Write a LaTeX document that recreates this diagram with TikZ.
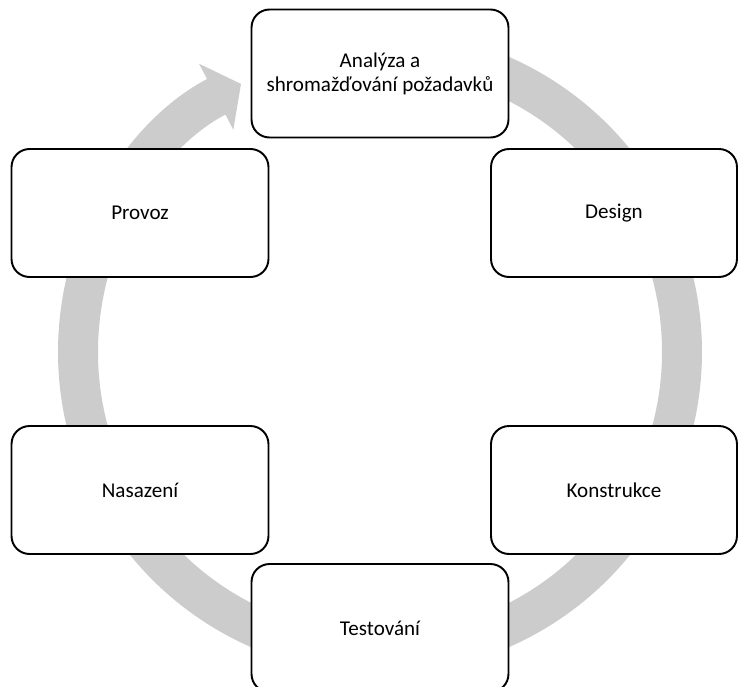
\documentclass[tikz,border=0pt]{standalone}
\usepackage{fontspec}
\setmainfont{Carlito}
\usetikzlibrary{arrows.meta}
\colorlet{ring}{black!20}
\tikzset{
  phase/.style={draw, line width=1.1pt, fill=white, rounded corners=0.36cm,
    align=center, inner sep=0pt, minimum height=2.56cm,
    font=\fontsize{12}{13.6}\selectfont},
  phase wide/.style={phase, minimum width=5.14cm},
  phase narrow/.style={phase, minimum width=4.92cm},
  cycle-path/.style={draw=ring, line width=0.8cm,
    -{Triangle[length=0.56cm, width=1.46cm]}},
}

\begin{document}
\begin{tikzpicture}[x=0.02cm, y=-0.02cm]
\useasboundingbox (0,0) rectangle (738,687);
% grey ring with the head just left of the first phase
\coordinate (hub) at (380,352);
\draw[cycle-path] (hub) ++(270:302) arc[start angle=270, end angle=602.6, radius=302];
% phases, clockwise from the top
\node[phase wide]   (analyza)    at (380,73.5) {Analýza a\\shromažďování požadavků};
\node[phase narrow] (design)     at (614,213)  {Design};
\node[phase narrow] (konstrukce) at (614,490)  {Konstrukce};
\node[phase wide]   (testovani)  at (380,628)  {Testování};
\node[phase wide]   (nasazeni)   at (140,490)  {Nasazení};
\node[phase wide]   (provoz)     at (140,213)  {Provoz};
\end{tikzpicture}
\end{document}
